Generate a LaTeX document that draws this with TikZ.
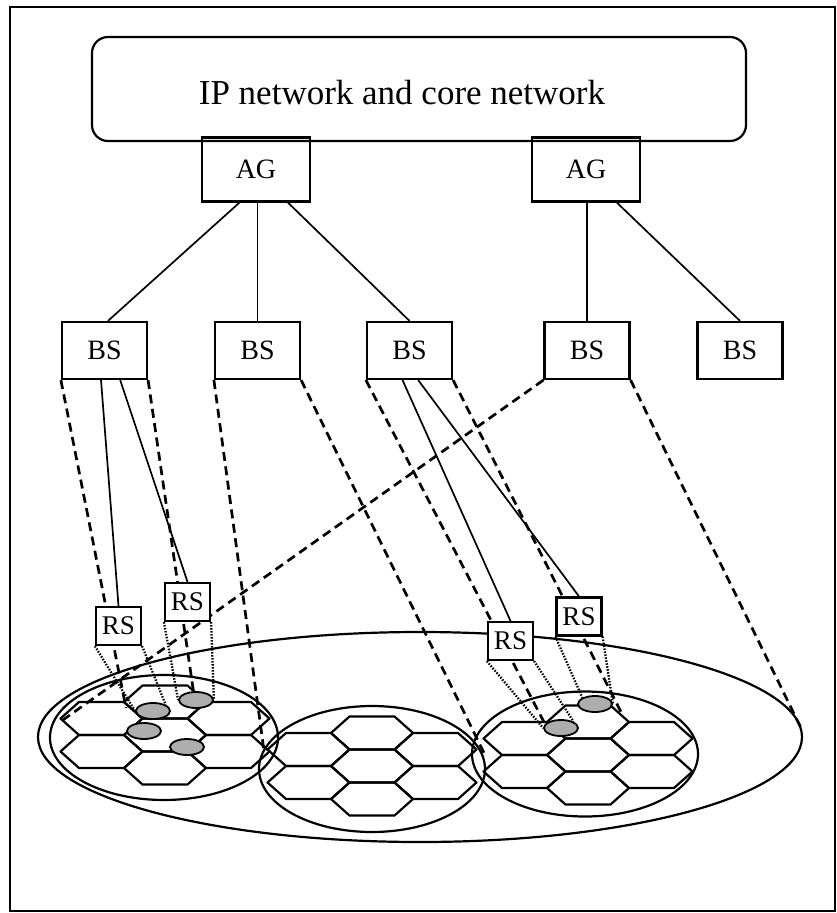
\documentclass[tikz,border=0pt]{standalone}
\usepackage{fontspec}
\setmainfont{Liberation Serif}
\usetikzlibrary{shapes.geometric,calc}
\pgfdeclarelayer{back}
\pgfsetlayers{back,main}

\begin{document}
\begin{tikzpicture}[x=1pt,y=-1pt,
  box/.style={draw,line width=2.2pt,inner sep=0pt,font=\fontsize{28}{30}\selectfont},
  bsbox/.style={box,minimum width=85pt,minimum height=57pt},
  agbox/.style={box,minimum width=108pt,minimum height=64pt},
  rsbox/.style={box,fill=white,minimum width=45pt,minimum height=38pt,font=\fontsize{27}{29}\selectfont},
  link/.style={line width=1.7pt},
  cover/.style={line width=2.7pt,dash pattern=on 9pt off 5.5pt},
  relay/.style={line width=2.3pt,dash pattern=on 1.5pt off 1.5pt},
  zone/.style={draw,ellipse,line width=2.2pt,inner sep=0pt},
  mobile/.style={draw,ellipse,line width=1.8pt,fill=black!32,minimum width=34pt,minimum height=16pt,inner sep=0pt},
  cellline/.style={line width=2.2pt,line join=round}
]
\useasboundingbox (0,0) rectangle (837,913);
\draw[line width=2.2pt] (10,7) rectangle (835,911);

% core network and access gateways
\node[draw,rounded corners=16pt,line width=2.2pt,minimum width=654pt,minimum height=104pt] (core) at (419,89) {};
\node[font=\fontsize{35}{40}\selectfont,anchor=base,inner sep=0pt] (coretitle) at (402,104.5) {IP network and core network};
\node[agbox] (ag1) at (256,169.5) {AG};
\node[agbox] (ag2) at (586,169.5) {AG};

% base stations
\node[bsbox] (bs1) at (104.5,350.5) {BS};
\node[bsbox] (bs2) at (257.5,350.5) {BS};
\node[bsbox] (bs3) at (409.5,350.5) {BS};
\node[bsbox] (bs4) at (587,350.5) {BS};
\node[bsbox] (bs5) at (740,350.5) {BS};

% relay stations (white, so they hide what passes behind them)
\node[rsbox] (rs1) at (118.5,626) {RS};
\node[rsbox] (rs2) at (187.5,602) {RS};
\node[rsbox] (rs3) at (510.5,641) {RS};
\node[rsbox] (rs4) at (579,616.5) {RS};

\begin{pgfonlayer}{back}
% coverage areas
\node[zone,minimum width=764pt,minimum height=210pt] (macro) at (420,737) {};
\node[zone,minimum width=228pt,minimum height=125pt] (cell1) at (164,737.5) {};
\node[zone,minimum width=226pt,minimum height=126pt] (cell2) at (372,769) {};
\node[zone,minimum width=226pt,minimum height=125pt] (cell3) at (585,754) {};

% seven-cell hexagon clusters
\foreach \cx/\cy in {165/735, 372/766, 588/755} {
  \foreach \dx/\dy in {0/0, 0/-33, 0/33, -63.5/-16.5, -63.5/16.5, 63.5/-16.5, 63.5/16.5} {
    \draw[cellline] ({\cx+\dx},{\cy+\dy}) ++(-41,0) -- ++(18.5,-16.5) -- ++(45,0)
      -- ++(18.5,16.5) -- ++(-18.5,16.5) -- ++(-45,0) -- cycle;
  }
}

% base station coverage cones
\coordinate (e1a) at (126,708);
\coordinate (e1b) at (195,702);
\coordinate (e2a) at (264,751);
\coordinate (e2b) at (486,757);
\coordinate (e3a) at (545,724);
\coordinate (e3b) at (621,712);
\coordinate (e4a) at (60,722);
\coordinate (e4b) at (802,730);
\draw[cover] (bs1.south west) -- (e1a);
\draw[cover] (bs1.south east) -- (e1b);
\draw[cover] (bs2.south west) -- (e2a);
\draw[cover] (bs2.south east) -- (e2b);
\draw[cover] (bs3.south west) -- (e3a);
\draw[cover] (bs3.south east) -- (e3b);
\draw[cover] (bs4.south west) -- (e4a);
\draw[cover] (bs4.south east) -- (e4b);
\end{pgfonlayer}

% gateway to base station links
\draw[link] ($(ag1.south west)!0.35!(ag1.south east)$) -- ($(bs1.north west)!0.54!(bs1.north east)$);
\draw[link] (bs2.north |- ag1.south) -- (bs2.north);
\draw[link] ($(ag1.south west)!0.79!(ag1.south east)$) -- (bs3.north);
\draw[link] (bs4.north |- ag2.south) -- (bs4.north);
\draw[link] ($(ag2.south west)!0.78!(ag2.south east)$) -- (bs5.north);

% base station to relay links
\draw[link] ($(bs1.south west)!0.46!(bs1.south east)$) -- (rs1.north);
\draw[link] ($(bs1.south west)!0.68!(bs1.south east)$) -- (rs2.north);
\draw[link] ($(bs3.south west)!0.42!(bs3.south east)$) -- (rs3.north);
\draw[link] ($(bs3.south west)!0.60!(bs3.south east)$) -- (rs4.north);

% mobile stations
\node[mobile] (ms1) at (153,711) {};
\node[mobile] (ms2) at (196,700) {};
\node[mobile] (ms3) at (144,731) {};
\node[mobile] (ms4) at (187,747) {};
\node[mobile] (ms5) at (595,704) {};
\node[mobile] (ms6) at (561,728) {};

% relay coverage cones
\draw[relay] (rs1.south west) -- (ms1.west);
\draw[relay] (rs1.south east) -- (ms1.north east);
\draw[relay] (rs2.south west) -- (ms2.west);
\draw[relay] (rs2.south east) -- (ms2.east);
\draw[relay] (rs3.south west) -- (ms6.west);
\draw[relay] (rs3.south east) -- (ms6.north east);
\draw[relay] (rs4.south west) -- (ms5.north west);
\draw[relay] (rs4.south east) -- (ms5.east);
\end{tikzpicture}
\end{document}
